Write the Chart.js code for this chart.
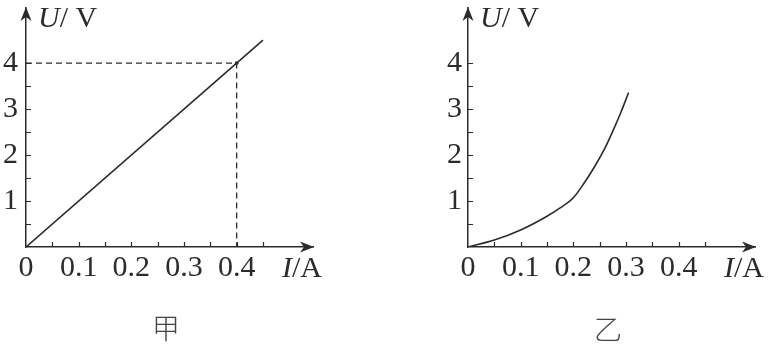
<!DOCTYPE html>
<html>
<head>
<meta charset="utf-8">
<script src="https://cdn.jsdelivr.net/npm/chart.js@4.4.0/dist/chart.umd.min.js"></script>
<style>
  html, body { margin: 0; padding: 0; background: #fff; }
  #wrap { position: relative; width: 774px; height: 347px; overflow: hidden; }
  canvas { position: absolute; top: 0; }
  #left { left: 0; }
  #right { left: 387px; }
  .cap { position: absolute; font: 28px "Noto Sans CJK SC"; font-weight: 300; color: #444; transform: translate(-50%, -50%); }
</style>
</head>
<body>
<div id="wrap">
  <canvas id="left" width="387" height="347"></canvas>
  <canvas id="right" width="387" height="347"></canvas>
  <div class="cap" style="left:166px;top:327px">甲</div>
  <div class="cap" style="left:608px;top:328px">乙</div>
</div>
<script>
// 甲: straight line through the origin, reading at 0.4 A / 4 V
const jiaI = [0, 0.45];
const jiaU = [0, 4.5];
const guideI = [0, 0.4, 0.4];
const guideU = [4, 4, 0];

// 乙: curve
const yiI = [0, 0.05, 0.1, 0.15, 0.175, 0.2, 0.22, 0.24, 0.26, 0.275, 0.29, 0.305];
const yiU = [0, 0.15, 0.37, 0.67, 0.85, 1.07, 1.38, 1.74, 2.15, 2.52, 2.92, 3.36];

const xLabels = [0, 0.1, 0.2, 0.3, 0.4];
const yLabels = [1, 2, 3, 4];
const xMinor = [0.05, 0.1, 0.15, 0.2, 0.25, 0.3, 0.35, 0.4, 0.45];
const yMinor = [0.5, 1, 1.5, 2, 2.5, 3, 3.5, 4];

const ink = '#2b2b2b';
const serif = '"Liberation Serif", "DejaVu Serif", serif';

function pts(xs, ys) {
    return xs.map((x, i) => ({x: x, y: ys[i]}));
}

// write "U/V" style titles, italic letter then upright unit
function drawParts(ctx, parts, x, y) {
    ctx.textBaseline = 'middle';
    ctx.textAlign = 'left';
    parts.forEach(p => {
        ctx.font = (p.italic ? 'italic ' : '') + '30px ' + serif;
        ctx.fillText(p.t, x, y);
        x += ctx.measureText(p.t).width;
    });
}

// arrows, inner tick marks and axis titles
const axisDecor = {
    id: 'axisDecor',
    afterDraw(chart, args, opts) {
        const {ctx, chartArea: a, scales: {x, y}} = chart;
        ctx.save();
        ctx.strokeStyle = ink;
        ctx.fillStyle = ink;
        ctx.lineWidth = 1.2;
        ctx.beginPath();
        xMinor.forEach(v => {
            const px = Math.round(x.getPixelForValue(v)) + 0.5;
            ctx.moveTo(px, a.bottom);
            ctx.lineTo(px, a.bottom - 5);
        });
        yMinor.forEach(v => {
            const py = Math.round(y.getPixelForValue(v)) + 0.5;
            ctx.moveTo(a.left, py);
            ctx.lineTo(a.left + 5, py);
        });
        ctx.stroke();

        // x arrow
        const tx = a.right + 1, ty = a.bottom;
        ctx.beginPath();
        ctx.moveTo(tx, ty);
        ctx.lineTo(tx - 14, ty - 5.5);
        ctx.lineTo(tx - 10, ty);
        ctx.lineTo(tx - 14, ty + 5.5);
        ctx.closePath();
        ctx.fill();
        // y arrow
        const ux = a.left, uy = a.top - 1;
        ctx.beginPath();
        ctx.moveTo(ux, uy);
        ctx.lineTo(ux - 5.5, uy + 14);
        ctx.lineTo(ux, uy + 10);
        ctx.lineTo(ux + 5.5, uy + 14);
        ctx.closePath();
        ctx.fill();

        drawParts(ctx, [{t: 'U', italic: true}, {t: '/ V'}], a.left + opts.uAt, 19);
        drawParts(ctx, [{t: 'I', italic: true}, {t: '/A'}], a.right - opts.iAt, 269);
        ctx.restore();
    }
};

// no extra room for half labels at the axis ends
function noPad(s) {
    s.paddingTop = 0;
    s.paddingBottom = 0;
    s.paddingLeft = 0;
    s.paddingRight = 0;
}

function makeChart(id, datasets, yWidth, padRight, yPad) {
    return new Chart(document.getElementById(id), {
        type: 'line',
        data: {datasets: datasets},
        options: {
            responsive: false,
            animation: false,
            layout: {padding: {left: 0, top: 8, right: padRight, bottom: 0}},
            plugins: {
                legend: {display: false},
                tooltip: {enabled: false},
                axisDecor: {uAt: 12, iAt: 31}
            },
            scales: {
                x: {
                    type: 'linear',
                    min: 0,
                    max: 0.545,
                    grid: {display: false, drawTicks: false},
                    border: {display: true, color: ink, width: 1.5},
                    afterBuildTicks: s => { s.ticks = xLabels.map(v => ({value: v})); },
                    afterFit: s => { s.height = 100; noPad(s); },
                    ticks: {
                        color: ink,
                        font: {family: serif, size: 30},
                        padding: 3,
                        maxRotation: 0,
                        autoSkip: false,
                        callback: v => String(v)
                    }
                },
                y: {
                    type: 'linear',
                    min: 0,
                    max: 5.2,
                    grid: {display: false, drawTicks: false},
                    border: {display: true, color: ink, width: 1.5},
                    afterBuildTicks: s => { s.ticks = yLabels.map(v => ({value: v})); },
                    afterFit: s => { s.width = yWidth; noPad(s); },
                    ticks: {
                        color: ink,
                        font: {family: serif, size: 30},
                        padding: yPad,
                        autoSkip: false,
                        callback: v => String(v)
                    }
                }
            }
        },
        plugins: [axisDecor]
    });
}

makeChart('left', [
    {data: pts(jiaI, jiaU), borderColor: ink, borderWidth: 1.6, pointRadius: 0, tension: 0},
    {data: pts(guideI, guideU), borderColor: ink, borderWidth: 1.3, borderDash: [6, 4], pointRadius: 0, tension: 0},
    {data: pts([guideI[1]], [guideU[1]]), showLine: false, pointRadius: 1.8, pointBackgroundColor: ink, pointBorderWidth: 0}
], 26, 74, 8);

makeChart('right', [
    {data: pts(yiI, yiU), borderColor: ink, borderWidth: 1.6, pointRadius: 0, cubicInterpolationMode: 'monotone'}
], 81, 19, 6);
</script>
</body>
</html>
